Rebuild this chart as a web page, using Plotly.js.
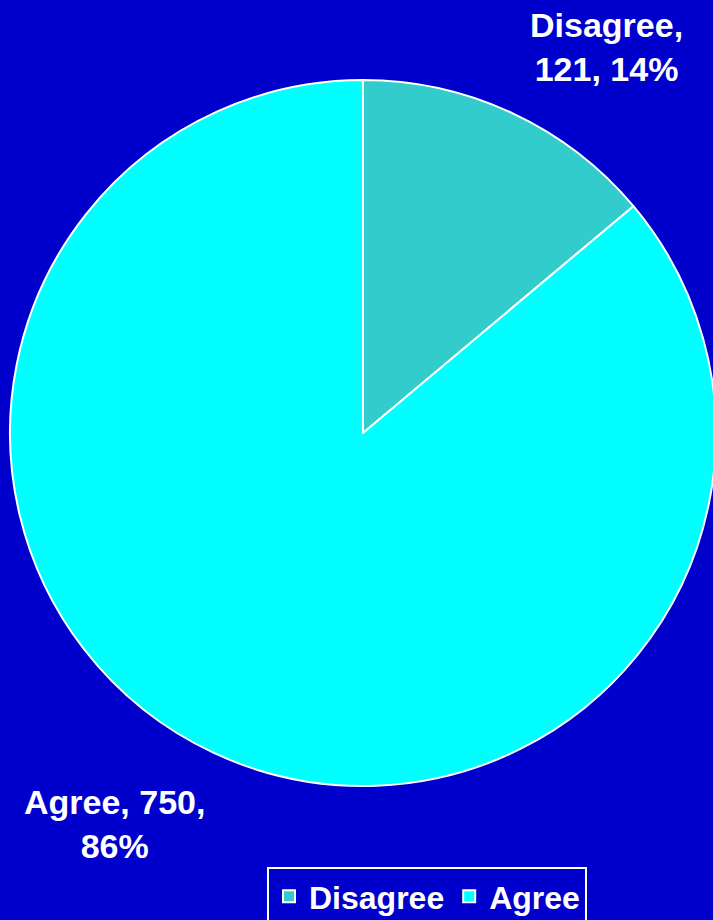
<!DOCTYPE html>
<html>
<head>
<meta charset="utf-8">
<script src="https://cdn.plot.ly/plotly-3.0.1.min.js"></script>
<style>
html,body{margin:0;padding:0;background:#0000CC;overflow:hidden;width:713px;height:920px;}
#chart{width:720px;height:920px;}
</style>
</head>
<body>
<div id="chart"></div>
<script>
const categories = ["Disagree", "Agree"];
const counts = [121, 750];
const sliceColors = ["#33CCCC", "#00FFFF"];

const total = counts.reduce((a, b) => a + b, 0);
const pct = counts.map(v => Math.round(v / total * 100));

const W = 720, H = 920;
const trace = {
  type: "pie",
  labels: categories,
  values: counts,
  sort: false,
  direction: "clockwise",
  rotation: 0,
  textinfo: "none",
  hoverinfo: "label+value+percent",
  marker: { colors: sliceColors, line: { color: "#FFFFFF", width: 2 } },
  domain: { x: [10 / W, 716 / W], y: [(H - 786) / H, (H - 80) / H] }
};

const labelFont = { family: "Liberation Sans, Arial, sans-serif", size: 34, color: "#FFFFFF", weight: "bold" };
const legendFont = { family: "Liberation Sans, Arial, sans-serif", size: 32, color: "#FFFFFF", weight: "bold" };

const layout = {
  width: W, height: H,
  margin: { l: 0, r: 0, t: 0, b: 0, autoexpand: false },
  paper_bgcolor: "#0000CC",
  plot_bgcolor: "#0000CC",
  showlegend: true,
  legend: {
    orientation: "h",
    x: 427 / W, xanchor: "center",
    y: -6 / H, yanchor: "bottom",
    bordercolor: "#FFFFFF", borderwidth: 2,
    bgcolor: "#0000CC",
    font: legendFont,
    traceorder: "normal"
  },
  annotations: [
    { text: categories[0] + ",<br>" + counts[0] + ", " + pct[0] + "%", x: 606 / W, y: (H - 47) / H,
      xref: "paper", yref: "paper", xanchor: "center", yanchor: "middle",
      showarrow: false, font: labelFont, align: "center" },
    { text: categories[1] + ", " + counts[1] + ",<br>" + pct[1] + "%", x: 115 / W, y: (H - 824) / H,
      xref: "paper", yref: "paper", xanchor: "center", yanchor: "middle",
      showarrow: false, font: labelFont, align: "center" }
  ]
};

Plotly.newPlot("chart", [trace], layout, { displayModeBar: false, staticPlot: true });
</script>
</body>
</html>
